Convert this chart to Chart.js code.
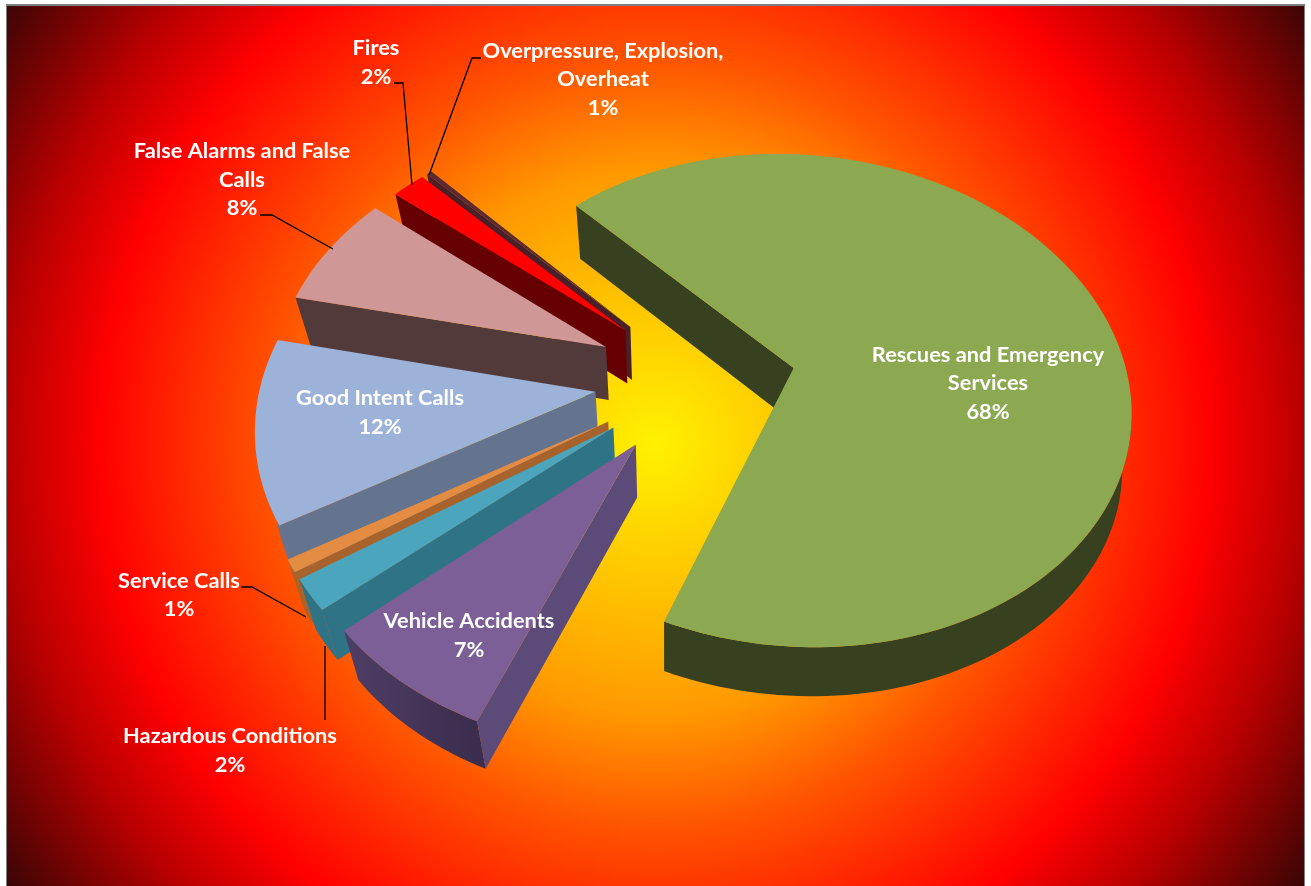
<!DOCTYPE html>
<html><head><meta charset="utf-8">
<style>html,body{margin:0;padding:0;background:#fff}canvas{display:block}</style>
<script src="https://cdn.jsdelivr.net/npm/chart.js@4/dist/chart.umd.js"></script>
</head><body>
<div style="width:1311px;height:886px"><canvas id="c" width="1311" height="886"></canvas></div>
<script>
const categories = ['Rescues and Emergency Services','Vehicle Accidents','Hazardous Conditions','Service Calls','Good Intent Calls','False Alarms and False Calls','Fires','Overpressure, Explosion, Overheat'];
const shares = [68.3,7.4,2.0,0.8,11.8,7.5,1.9,0.3];
const percentLabels = ['68%','7%','2%','1%','12%','8%','2%','1%'];
const explosion = [96,105,105,105,104,104,101,101];
const topColors = ['#8CA850','#7B5F96','#4BA5BD','#E38C42','#9DB2D8','#D09797','#FF0000','#5A2A30'];
const edgeColors = ['#38411F','#5C4A78','#2F7386','#A8622C','#64748F','#523A3A','#660000','#4A2028'];
const rimLeft = ['#4E5C30','#4E3E66','#2F7386','#B06A30','#7287AE','#523A3A','#660000','#4A2028'];
const rimRight = ['#38411F','#3B2D4D','#2F7386','#A8622C','#64748F','#523A3A','#660000','#4A2028'];
const drawOrder = [0,7,6,5,4,3,2,1];
const labelLines = [
 {i:0,x:988,y:[355,383],lines:['Rescues and Emergency','Services'],py:412},
 {i:1,x:469,y:[621],lines:['Vehicle Accidents'],py:650},
 {i:2,x:230,y:[736],lines:['Hazardous Conditions'],py:765},
 {i:3,x:179,y:[581],lines:['Service Calls'],py:609},
 {i:4,x:380,y:[398],lines:['Good Intent Calls'],py:427},
 {i:5,x:242,y:[151,180],lines:['False Alarms and False','Calls'],py:208},
 {i:6,x:376,y:[48],lines:['Fires'],py:77},
 {i:7,x:603,y:[51,79],lines:['Overpressure, Explosion,','Overheat'],py:108}
];
const leaders = [
 [[394,83],[403,83],[412,185]],
 [[481,58],[472,58],[429,175]],
 [[260,215],[272,215],[333,249]],
 [[241,587],[252,587],[306,617]],
 [[325,720],[325,646]]
];

function project(X,Y){
  const Xg=X-0.286, Yg=Y-0.051, w=1+0.132*Yg;
  return [655+(332*Xg+139)/w, 367.5-242.2*Yg/w];
}
function drop(p){
  const h=53-Math.max(0,p[1]-450)*0.02;
  const k=p[0]<665?0.045:0.02;
  return [p[0]+(665-p[0])*k,p[1]+h];
}
function poly(ctx,pts,fill){
  ctx.beginPath();
  pts.forEach((p,k)=>k?ctx.lineTo(p[0],p[1]):ctx.moveTo(p[0],p[1]));
  ctx.closePath();ctx.fillStyle=fill;ctx.fill();
}
// a wall hangs below edge P-Q; it shows only if the reference point R lies above that edge
function facesViewer(P,Q,R){
  const side=(Q[0]-P[0])*(R[1]-P[1])-(Q[1]-P[1])*(R[0]-P[0]);
  return side*(Q[0]-P[0])<0;
}
const backdrop={id:'backdrop',beforeDraw(chart){
  const ctx=chart.ctx;
  ctx.save();
  ctx.fillStyle='#fff';ctx.fillRect(0,0,1311,886);
  const g=ctx.createRadialGradient(655,443,0,655,443,785);
  [[0,'#FFF200'],[0.2,'#FFC000'],[0.346,'#FF9900'],[0.488,'#FF5500'],[0.707,'#FF0000'],[0.828,'#B80000'],[1,'#3A0505']].forEach(s=>g.addColorStop(s[0],s[1]));
  ctx.fillStyle='#7F7F7F';ctx.fillRect(6,4,1299,882);
  ctx.fillStyle=g;ctx.fillRect(7,6,1297,880);
  ctx.restore();
}};
const pie3d={id:'pie3d',
 beforeDatasetDraw(chart,args){
  const ctx=chart.ctx, arcs=chart.getDatasetMeta(args.index).data;
  ctx.save();
  drawOrder.forEach(i=>{
    const a=arcs[i], R=a.outerRadius, off=a.options.offset, mid=(a.startAngle+a.endAngle)/2;
    const cx=(a.x-chart.chartArea.width/2-chart.chartArea.left+Math.cos(mid)*off)/R;
    const cy=-(a.y-chart.chartArea.height/2-chart.chartArea.top+Math.sin(mid)*off)/R;
    const n=Math.max(4,Math.ceil((a.endAngle-a.startAngle)/(Math.PI/120)));
    const rim=[];
    for(let k=0;k<=n;k++){
      const t=a.startAngle+(a.endAngle-a.startAngle)*k/n;
      rim.push(project(cx+Math.cos(t),cy-Math.sin(t)));
    }
    const apex=project(cx,cy), lowApex=drop(apex);
    const inner=project(cx+0.5*Math.cos(mid),cy-0.5*Math.sin(mid));
    const xs=rim.map(p=>p[0]), x0=Math.min(...xs), x1=i===0?x0+70:Math.max(...xs);
    const grad=ctx.createLinearGradient(x0,0,x1,0);
    grad.addColorStop(0,rimLeft[i]);grad.addColorStop(1,rimRight[i]);
    // outer wall: contiguous runs of rim segments that face the viewer
    let run=[];
    const flush=()=>{ if(run.length>1) poly(ctx,run.concat(run.map(drop).reverse()),grad); run=[]; };
    for(let k=0;k<n;k++){
      if(facesViewer(rim[k],rim[k+1],apex)){ if(!run.length) run.push(rim[k]); run.push(rim[k+1]); }
      else flush();
    }
    flush();
    // radial walls
    [rim[0],rim[n]].forEach(E=>{
      if(facesViewer(apex,E,inner)) poly(ctx,[apex,E,drop(E),lowApex],edgeColors[i]);
    });
    poly(ctx,[apex].concat(rim),topColors[i]);
  });
  ctx.restore();
  return false;
 },
 afterDatasetsDraw(chart){
  const ctx=chart.ctx;
  ctx.save();
  ctx.strokeStyle='#000';ctx.lineWidth=1.3;
  leaders.forEach(l=>{ctx.beginPath();l.forEach((p,k)=>k?ctx.lineTo(p[0],p[1]):ctx.moveTo(p[0],p[1]));ctx.stroke();});
  ctx.fillStyle='#fff';ctx.textAlign='center';ctx.textBaseline='middle';
  ctx.font='bold 21.8px Lato';
  labelLines.forEach(l=>{
    l.lines.forEach((t,k)=>ctx.fillText(t,l.x,l.y[k]));
    ctx.fillText(percentLabels[l.i],l.x,l.py);
  });
  ctx.restore();
 }};
new Chart(document.getElementById('c'),{
  type:'pie',
  data:{labels:categories,datasets:[{data:shares,backgroundColor:topColors,offset:explosion,borderWidth:0}]},
  options:{responsive:false,animation:false,events:[],rotation:-42.7,radius:332,layout:{padding:0},
    plugins:{legend:{display:false},tooltip:{enabled:false}}},
  plugins:[backdrop,pie3d]
});
</script>
</body></html>
